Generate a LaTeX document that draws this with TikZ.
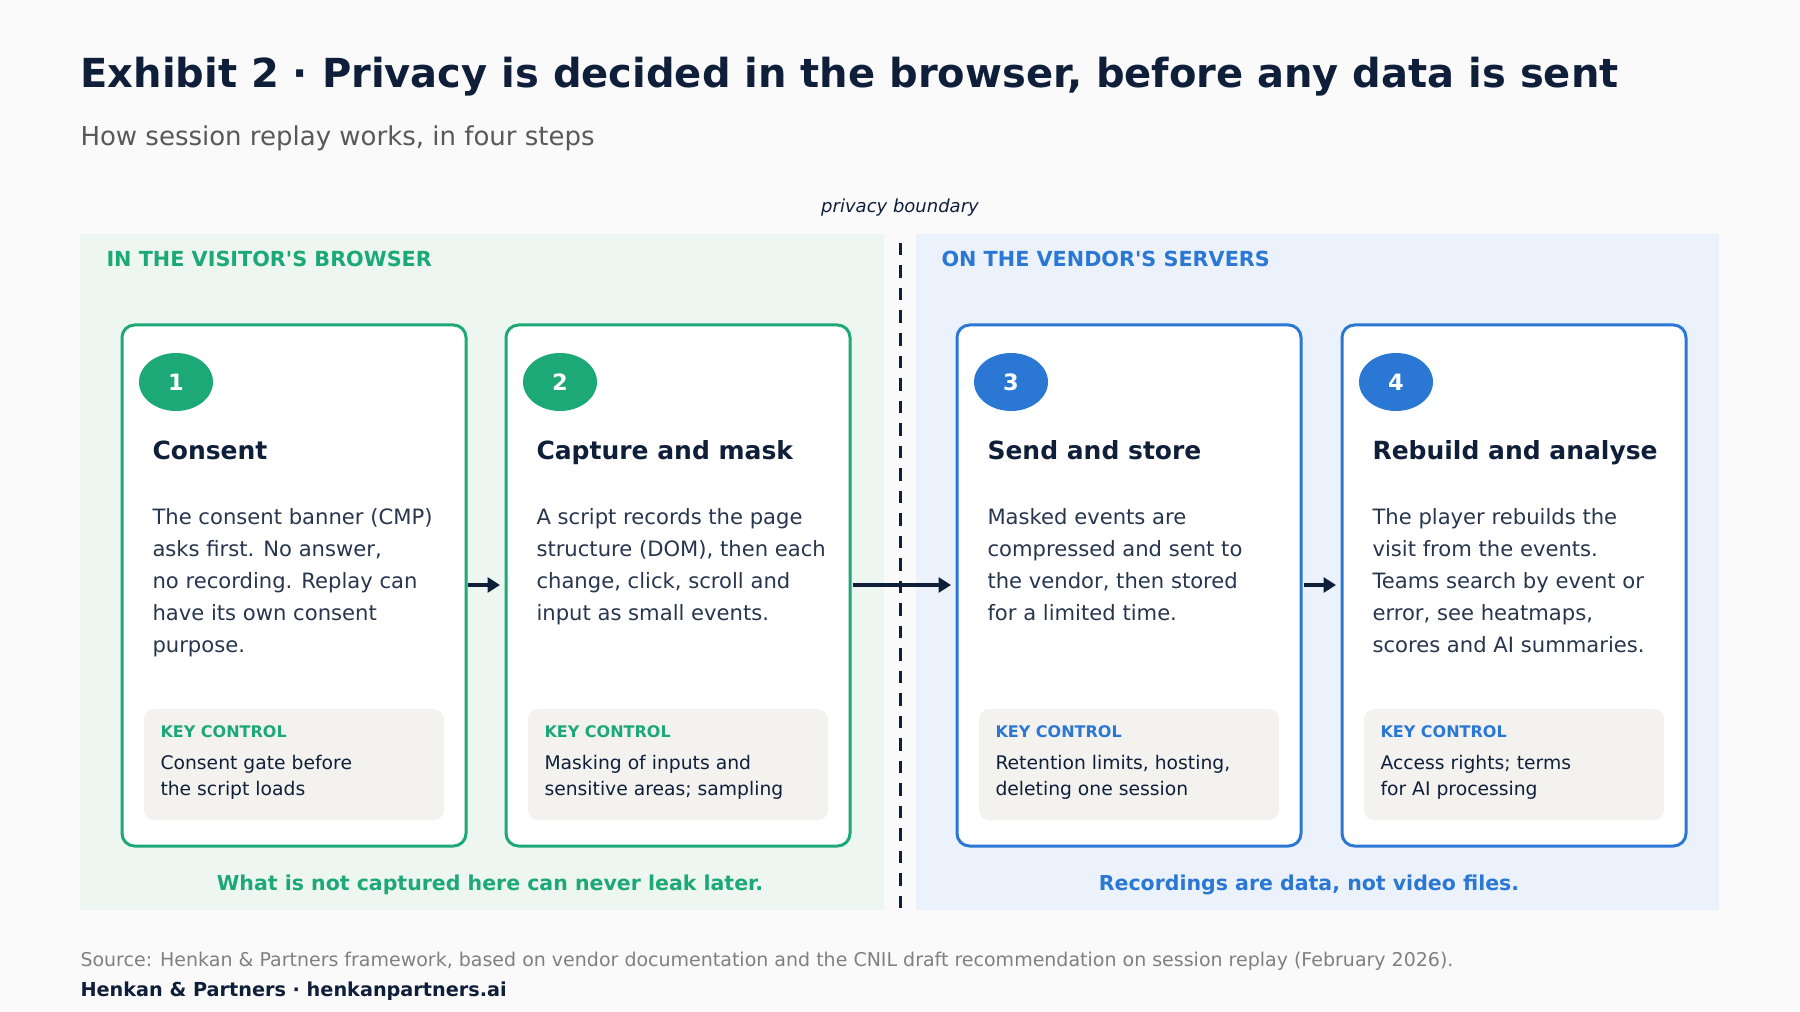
\documentclass[tikz,border=0pt]{standalone}
\usepackage{fontspec}
\setmainfont{DejaVu Sans}[Ligatures=TeXOff]
\usetikzlibrary{arrows.meta,shapes.geometric}
\definecolor{navy}{HTML}{0F1F3A}
\definecolor{grn}{HTML}{1DA878}
\definecolor{blu}{HTML}{2B77D4}
\definecolor{gbg}{HTML}{EDF6F1}
\definecolor{bbg}{HTML}{EBF2FB}
\definecolor{kbg}{HTML}{F3F2EF}
\definecolor{pagebg}{HTML}{FAFAFA}
\begin{document}
\begin{tikzpicture}[x=0.4pt,y=-0.4pt,
 card/.style={draw=#1,line width=1.2pt,rounded corners=5pt,fill=white},
 num/.style={ellipse,fill=#1,minimum width=29.6pt,minimum height=23.2pt,inner sep=0pt,text=white,font=\bfseries\fontsize{9}{11}\selectfont},
 head/.style={anchor=base west,inner sep=0pt,text=navy,font=\bfseries\fontsize{10}{12}\selectfont},
 body/.style={anchor=north west,align=left,text=navy!90,font=\fontsize{8.45}{12.8}\selectfont,inner sep=0pt},
 kbox/.style={fill=kbg,rounded corners=4pt},
 klab/.style={anchor=west,text=#1,font=\bfseries\fontsize{6.4}{8}\selectfont,inner sep=0pt},
 ktxt/.style={anchor=north west,align=left,text=navy,font=\fontsize{7.5}{10.4}\selectfont,inner sep=0pt},
 arr/.style={draw=navy,line width=1.3pt,-{Triangle[length=5pt,width=6pt]}}]
\fill[pagebg] (0,0) rectangle (1800,1012);
\node[anchor=west,text=navy,font=\bfseries\fontsize{16}{18}\selectfont,inner sep=0pt] (title) at (80,77) {Exhibit 2 · Privacy is decided in the browser, before any data is sent};
\node[anchor=west,text=black!65,font=\fontsize{10.4}{12}\selectfont,inner sep=0pt] (sub) at (80,138) {How session replay works, in four steps};
\fill[gbg] (80,234) rectangle (884,910);
\fill[bbg] (916,234) rectangle (1719,910);
\node[text=navy,font=\itshape\fontsize{7.2}{9}\selectfont] (pb) at (900,208) {privacy boundary};
\draw[navy,line width=1.2pt,dash pattern=on 5pt off 4pt] (900,243) -- (900,910);
\node[klab=grn,font=\bfseries\fontsize{8.3}{10}\selectfont] (lb) at (106,259) {IN THE VISITOR'S BROWSER};
\node[klab=blu,font=\bfseries\fontsize{8.3}{10}\selectfont] (lv) at (941,259) {ON THE VENDOR'S SERVERS};
% cards
\foreach \x/\c/\n/\h/\b/\k in {
 122/grn/1/Consent/{The consent banner (CMP)\\asks first. No answer,\\no recording. Replay can\\have its own consent\\purpose.}/{Consent gate before\\the script loads},
 506/grn/2/Capture and mask/{A script records the page\\structure (DOM), then each\\change, click, scroll and\\input as small events.}/{Masking of inputs and\\sensitive areas; sampling},
 957/blu/3/Send and store/{Masked events are\\compressed and sent to\\the vendor, then stored\\for a limited time.}/{Retention limits, hosting,\\deleting one session},
 1342/blu/4/Rebuild and analyse/{The player rebuilds the\\visit from the events.\\Teams search by event or\\error, see heatmaps,\\scores and AI summaries.}/{Access rights; terms\\for AI processing}}{
 \draw[card=\c] (\x,325) rectangle ++(344,521);
 \node[num=\c] at (\x+54,382) {\n};
 \node[head] at (\x+30,460) {\h};
 \node[body] at (\x+30,508) {\b};
 \fill[kbox] (\x+22,709) rectangle ++(300,111);
 \node[klab=\c] at (\x+38,732) {KEY CONTROL};
 \node[ktxt] at (\x+38,755) {\k};
}
\coordinate (a1) at (468,585); \coordinate (b1) at (500,585);
\coordinate (a2) at (853,585); \coordinate (b2) at (951,585);
\coordinate (a3) at (1304,585); \coordinate (b3) at (1336,585);
\draw[arr] (a1) -- (b1);
\draw[arr] (a2) -- (b2);
\draw[arr] (a3) -- (b3);
\node[text=grn,font=\bfseries\fontsize{8.2}{10}\selectfont] (fg) at (490,885) {What is not captured here can never leak later.};
\node[text=blu,font=\bfseries\fontsize{8.2}{10}\selectfont] (fb) at (1309,885) {Recordings are data, not video files.};
\node[anchor=west,inner sep=0pt,text=black!50,font=\fontsize{7.6}{9}\selectfont] (src) at (80,961) {Source: Henkan \& Partners framework, based on vendor documentation and the CNIL draft recommendation on session replay (February 2026).};
\node[anchor=west,inner sep=0pt,text=navy,font=\bfseries\fontsize{7.7}{9}\selectfont] (ft) at (80,991) {Henkan \& Partners · henkanpartners.ai};
\end{tikzpicture}
\end{document}
